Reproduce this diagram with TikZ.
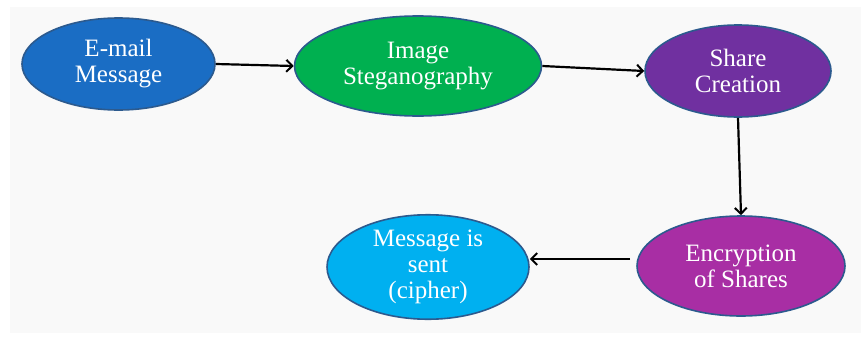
\documentclass[tikz,border=0pt]{standalone}
\usepackage{fontspec}
\setmainfont{Liberation Serif}
\usetikzlibrary{shapes.geometric,arrows.meta}
\definecolor{cblue}{HTML}{1A6DC4}
\definecolor{cgreen}{HTML}{00B050}
\definecolor{cpurple}{HTML}{7030A0}
\definecolor{cmagenta}{HTML}{A82EA4}
\definecolor{ccyan}{HTML}{00B0F0}
\definecolor{cedge}{HTML}{2C5A8E}
\definecolor{bg}{HTML}{F9F9F9}
\tikzset{
  stage/.style={ellipse, draw=cedge, line width=1.6pt, text=white, inner sep=0pt,
    align=center, font=\fontsize{25}{26}\selectfont},
  flow/.style={draw=black, line width=2.2pt, -{Straight Barb[length=6pt,width=12pt,line width=2pt]}}
}
\begin{document}
\begin{tikzpicture}[x=1pt,y=-1pt]
\useasboundingbox (0,0) rectangle (861,340);
\fill[white] (0,0) rectangle (861,340);
\fill[bg] (10,7) rectangle (861,333);
\node[stage, fill=cblue, minimum width=193pt, minimum height=92pt] (mail) at (118.5,64) {E-mail\\Message};
\node[stage, fill=cgreen, minimum width=247pt, minimum height=100pt] (steg) at (418,66) {Image\\Steganography};
\node[stage, fill=cpurple, minimum width=186pt, minimum height=92pt] (share) at (738,71) {Share\\Creation};
\node[stage, fill=cmagenta, minimum width=208pt, minimum height=100pt] (enc) at (741,266) {Encryption\\of Shares};
\node[stage, fill=ccyan, minimum width=202pt, minimum height=88pt] (sent) at (428,267) {Message is\\sent\\(cipher)};
\draw[flow] (mail.east) -- (steg.west);
\draw[flow] (steg.east) -- (share.west);
\draw[flow] (share.south) -- (enc.north);
\draw[flow, shorten <=6pt] (enc.west |- 0,259) -- (sent.east |- 0,259);
\end{tikzpicture}
\end{document}
